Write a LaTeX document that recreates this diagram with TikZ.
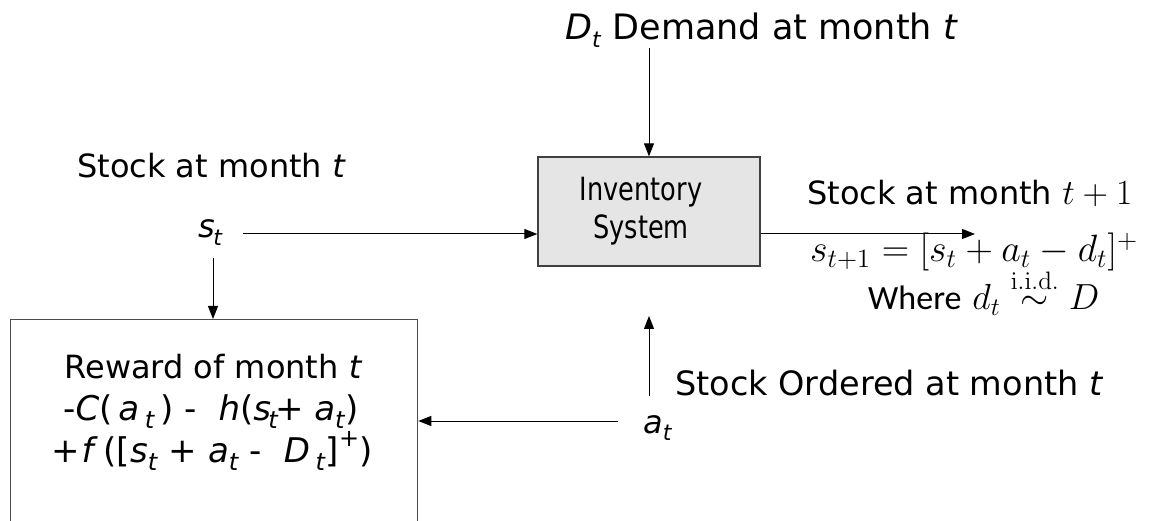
\documentclass[tikz,border=0pt]{standalone}
\usepackage{amsmath}
\usepackage[no-math]{fontspec}
\setmainfont{DejaVu Sans}
\newfontfamily\calibri{Carlito}
\usetikzlibrary{arrows.meta}
\tikzset{
  lbl/.style={inner sep=0pt, font=\fontsize{32}{38}\selectfont},
  arr/.style={line width=1pt, -{Triangle[length=13pt,width=10pt]}},
  sysbox/.style={draw=black!75, line width=1.3pt, fill=black!10, minimum width=222pt, minimum height=109pt, inner sep=0pt},
  rewbox/.style={draw=black!70, line width=1.3pt, minimum width=407pt, minimum height=260pt, inner sep=0pt},
}
\newcommand{\itx}[1]{\textit{#1}}
\newcommand{\sbt}{\raisebox{-0.22em}{\fontsize{22}{22}\selectfont\textit{t}}}
\newcommand{\sbtl}{\raisebox{-0.24em}{\fontsize{24}{24}\selectfont\textit{t}}}
\newcommand{\mbig}[2][2.05]{\scalebox{#1}{\fontsize{17.28}{20}\selectfont$#2$}}
\begin{document}
\begin{tikzpicture}[x=1pt,y=-1pt]
\useasboundingbox (0,0) rectangle (1162,521);
\clip (0,0) rectangle (1162,521);
% inventory system
\node[sysbox] (box) at (649,211.5) {};
\node[inner sep=0pt, align=center, font=\fontsize{32}{38}\selectfont] (boxtxt) at ([xshift=-8pt]box.center)
  {\scalebox{0.8}[1]{Inventory}\\\scalebox{0.8}[1]{System}};
% demand
\node[lbl, anchor=base west, font=\fontsize{35}{40}\selectfont] (dem) at (565,40) {\itx{D}\sbt{} Demand at month \itx{t}};
\coordinate (demS) at (649,48);
\draw[arr] (demS) -- (box.north);
% stock at month t (left)
\node[lbl, anchor=base west] (stk) at (77,178) {Stock at month \itx{t}};
\node[lbl, anchor=base west] (st) at (198,238) {\itx{s}\kern-0.05em\sbt};
\coordinate (stE) at (243,234);
\draw[arr] (stE) -- (box.west |- stE);
% reward box
\node[rewbox, anchor=north west] (rew) at (10,319) {};
\coordinate (stD) at (213,258);
\draw[arr] (stD) -- (rew.north -| stD);
\node[lbl, anchor=base] (r1) at (213.5,378) {Reward of month \itx{t}};
\node[lbl, anchor=base, font=\fontsize{34}{40}\selectfont] (r2) at (211,420) {-\itx{C}(\,\itx{a}\,\sbtl\,) -\ \ \itx{h}(\itx{s}\kern-0.08em\sbtl\kern-0.1em+ \itx{a}\sbtl)};
\node[lbl, anchor=base, font=\fontsize{34}{40}\selectfont] (r3) at (212,462) {+\kern0.05em\itx{f}\,([\itx{s}\sbtl{} + \itx{a}\sbtl{} -\ \ \itx{D}\,\sbtl]\raisebox{0.45em}{\fontsize{24}{24}\selectfont+})};
% action
\node[lbl, anchor=base west] (at) at (643,433) {\itx{a}\sbt};
\node[lbl, anchor=base west, font=\fontsize{33.5}{40}\selectfont] (ord) at (675,395) {Stock Ordered at month \itx{t}};
\coordinate (atL) at (618,421);
\draw[arr] (atL) -- (rew.east |- atL);
\coordinate (atU) at (649,396);
\coordinate (atT) at (649,316);
\draw[arr] (atU) -- (atT);
% output
\coordinate (outE) at (975,234);
\draw[arr] (box.east |- outE) -- (outE);
\node[lbl, anchor=base west] (nxt) at (807,205) {Stock at month \mbig{t+1}};
\node[inner sep=0pt, anchor=base west] (eq) at (810,262) {\mbig[2.2]{s_{t+1} = [s_t + a_t - d_t]^+}};
\node[inner sep=0pt, anchor=base west, font=\fontsize{34}{40}\selectfont] (wh) at (868,310) {{\calibri Where} \mbig[2.1]{d_t \overset{\mathrm{i.i.d.}}{\sim} D}};
\end{tikzpicture}
\end{document}
